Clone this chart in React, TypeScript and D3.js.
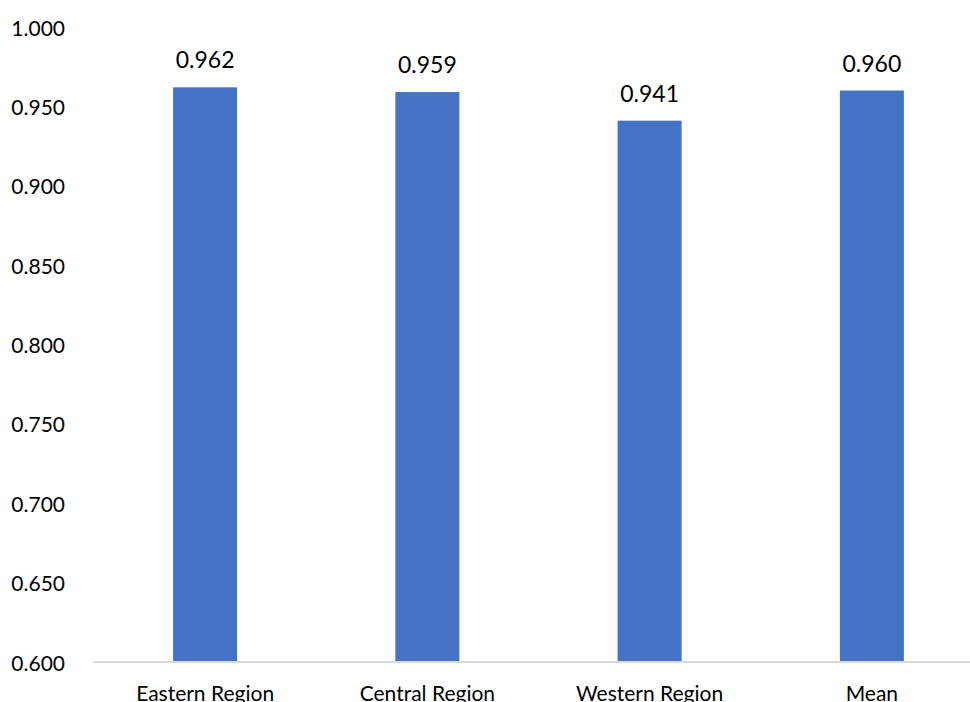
import React from "react";
import * as d3 from "d3";

const categories = ["Eastern Region", "Central Region", "Western Region", "Mean"];
const values = [0.962, 0.959, 0.941, 0.96];
const yTicks = [0.6, 0.65, 0.7, 0.75, 0.8, 0.85, 0.9, 0.95, 1.0];

const W = 970;
const H = 702;
const FONT = "Lato, 'Open Sans', sans-serif";

export default function App() {
  const x = d3.scaleBand<string>().domain(categories).range([94, 983]).padding(0);
  const y = d3.scaleLinear().domain([0.6, 1.0]).range([662, 27]);
  const barW = x.bandwidth() * 0.288;

  return (
    <div style={{ position: "fixed", left: 0, top: 0, background: "#fff" }}>
      <svg width={W} height={H} style={{ display: "block", fontFamily: FONT }}>
        <rect width={W} height={H} fill="#fff" />
        {yTicks.map((t) => (
          <text
            key={t}
            x={65}
            y={y(t)}
            textAnchor="end"
            dominantBaseline="central"
            fontSize={21}
            fill="#000"
          >
            {d3.format(".3f")(t)}
          </text>
        ))}
        {categories.map((c, i) => {
          const cx = (x(c) as number) + x.bandwidth() / 2;
          return (
            <g key={c}>
              <rect
                x={cx - barW / 2}
                y={y(values[i])}
                width={barW}
                height={y(0.6) - y(values[i])}
                fill="#4472c4"
              />
              <text
                x={cx}
                y={y(values[i]) - 28}
                textAnchor="middle"
                dominantBaseline="central"
                fontSize={23}
                fill="#000"
              >
                {d3.format(".3f")(values[i])}
              </text>
              <text x={cx} y={701} textAnchor="middle" fontSize={21} fill="#000">
                {c}
              </text>
            </g>
          );
        })}
        <line x1={93} x2={W} y1={y(0.6)} y2={y(0.6)} stroke="#d9d9d9" strokeWidth={2} />
      </svg>
    </div>
  );
}
